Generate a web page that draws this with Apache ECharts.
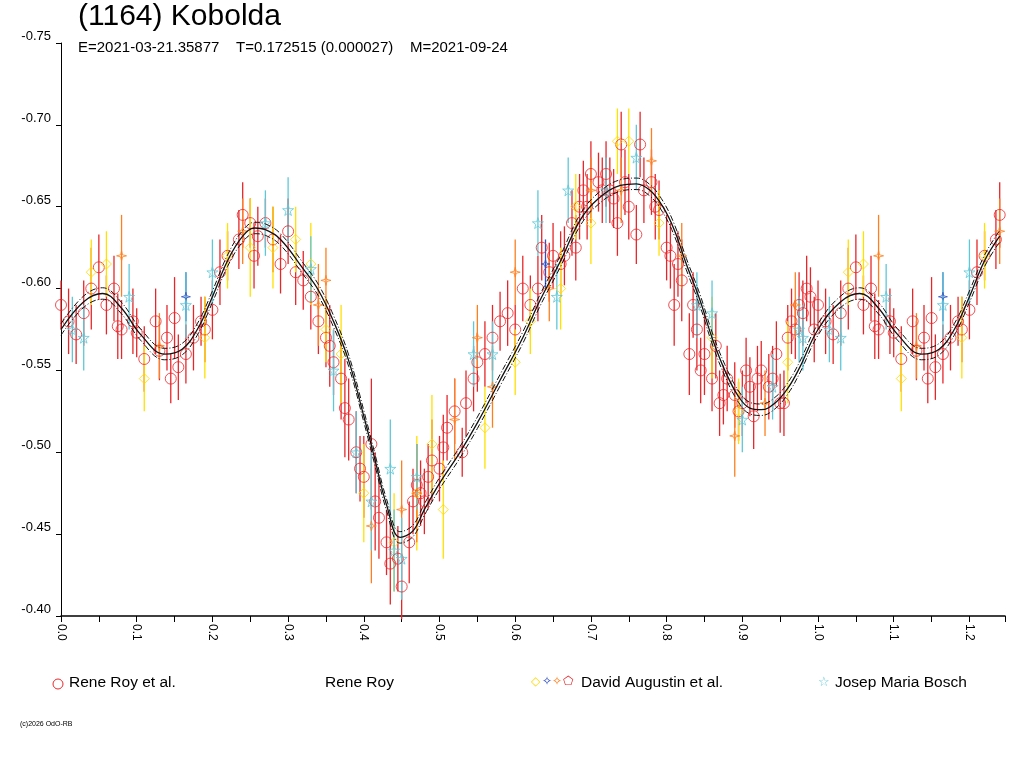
<!DOCTYPE html>
<html>
<head>
<meta charset="utf-8">
<script src="https://cdn.jsdelivr.net/npm/echarts@6/dist/echarts.min.js"></script>
<style>html,body{margin:0;padding:0;background:#fff}#chart{width:1024px;height:768px}</style>
</head>
<body>
<div id="chart"></div>
<script>
// model curve: phase, magnitude (one full period)
const modelCurve = [
  [0.00,-0.575],[0.03,-0.592],[0.055,-0.597],[0.08,-0.588],[0.105,-0.572],[0.137,-0.560],[0.16,-0.563],
  [0.18,-0.575],[0.20,-0.595],[0.22,-0.617],[0.24,-0.632],[0.256,-0.637],[0.27,-0.636],[0.29,-0.630],
  [0.32,-0.612],[0.34,-0.599],[0.36,-0.580],[0.38,-0.556],[0.40,-0.522],[0.415,-0.495],[0.43,-0.468],
  [0.448,-0.448],[0.465,-0.452],[0.48,-0.465],[0.50,-0.481],[0.527,-0.500],[0.55,-0.518],[0.58,-0.544],
  [0.61,-0.570],[0.633,-0.593],[0.66,-0.617],[0.686,-0.642],[0.71,-0.655],[0.739,-0.663],[0.76,-0.664],
  [0.778,-0.660],[0.795,-0.650],[0.81,-0.636],[0.826,-0.615],[0.844,-0.593],[0.86,-0.570],[0.877,-0.550],
  [0.895,-0.534],[0.91,-0.527],[0.925,-0.526],[0.943,-0.530],[0.96,-0.539],[0.976,-0.552],[1.00,-0.575]
];
// observations: phase, magnitude, error
const reneRoyEtAl = [
  [0.00,-0.590,0.015],[0.01,-0.580,0.02],[0.02,-0.572,0.018],[0.03,-0.585,0.02],[0.04,-0.600,0.025],[0.05,-0.613,0.02],
  [0.06,-0.590,0.018],[0.07,-0.600,0.02],[0.075,-0.577,0.02],[0.08,-0.575,0.018],[0.095,-0.580,0.02],[0.10,-0.573,0.015],
  [0.11,-0.557,0.02],[0.125,-0.580,0.02],[0.13,-0.562,0.018],[0.14,-0.570,0.02],[0.145,-0.545,0.015],[0.15,-0.582,0.025],
  [0.155,-0.552,0.02],[0.165,-0.560,0.018],[0.175,-0.570,0.02],[0.185,-0.580,0.015],[0.19,-0.575,0.02],[0.20,-0.587,0.018],
  [0.21,-0.610,0.02],[0.22,-0.620,0.015],[0.235,-0.630,0.018],[0.24,-0.645,0.02],[0.25,-0.640,0.015],[0.255,-0.620,0.02],
  [0.26,-0.632,0.018],[0.27,-0.640,0.015],[0.28,-0.630,0.02],[0.29,-0.615,0.018],[0.30,-0.635,0.02],[0.31,-0.610,0.02],
  [0.32,-0.605,0.018],[0.33,-0.595,0.02],[0.34,-0.580,0.02],[0.35,-0.570,0.018],[0.355,-0.565,0.025],[0.36,-0.555,0.02],
  [0.37,-0.545,0.025],[0.375,-0.527,0.03],[0.38,-0.520,0.025],[0.39,-0.500,0.025],[0.395,-0.490,0.02],[0.40,-0.485,0.025],
  [0.41,-0.505,0.04],[0.415,-0.470,0.03],[0.42,-0.460,0.025],[0.43,-0.445,0.02],[0.435,-0.432,0.025],[0.445,-0.435,0.02],
  [0.45,-0.418,0.02],[0.46,-0.445,0.025],[0.465,-0.470,0.02],[0.47,-0.480,0.025],[0.475,-0.475,0.02],[0.48,-0.470,0.02],
  [0.485,-0.485,0.02],[0.49,-0.495,0.025],[0.50,-0.490,0.02],[0.505,-0.503,0.02],[0.51,-0.515,0.02],[0.52,-0.525,0.02],
  [0.53,-0.500,0.015],[0.535,-0.530,0.02],[0.545,-0.545,0.02],[0.55,-0.555,0.018],[0.56,-0.560,0.02],[0.57,-0.570,0.02],
  [0.58,-0.580,0.018],[0.59,-0.585,0.02],[0.60,-0.575,0.015],[0.61,-0.600,0.02],[0.62,-0.590,0.018],[0.63,-0.600,0.02],
  [0.635,-0.625,0.02],[0.645,-0.610,0.018],[0.65,-0.620,0.02],[0.66,-0.615,0.02],[0.665,-0.620,0.018],[0.675,-0.640,0.02],
  [0.68,-0.625,0.02],[0.685,-0.650,0.02],[0.69,-0.660,0.018],[0.695,-0.650,0.02],[0.70,-0.670,0.02],[0.71,-0.665,0.018],
  [0.715,-0.660,0.02],[0.72,-0.670,0.02],[0.725,-0.660,0.02],[0.73,-0.655,0.018],[0.735,-0.640,0.02],[0.74,-0.688,0.02],
  [0.745,-0.665,0.02],[0.75,-0.650,0.02],[0.76,-0.633,0.018],[0.765,-0.688,0.02],[0.77,-0.660,0.02],[0.78,-0.665,0.02],
  [0.785,-0.650,0.02],[0.79,-0.648,0.018],[0.80,-0.625,0.02],[0.805,-0.620,0.02],[0.81,-0.590,0.025],[0.815,-0.615,0.02],
  [0.82,-0.605,0.025],[0.83,-0.560,0.025],[0.835,-0.590,0.02],[0.84,-0.575,0.025],[0.845,-0.550,0.02],[0.85,-0.560,0.025],
  [0.86,-0.545,0.02],[0.865,-0.565,0.02],[0.87,-0.530,0.02],[0.875,-0.535,0.018],[0.88,-0.545,0.02],[0.89,-0.535,0.02],
  [0.895,-0.525,0.018],[0.90,-0.530,0.02],[0.905,-0.550,0.02],[0.91,-0.540,0.018],[0.915,-0.522,0.02],[0.92,-0.545,0.02],
  [0.925,-0.550,0.018],[0.935,-0.540,0.02],[0.94,-0.545,0.02],[0.945,-0.560,0.02],[0.95,-0.530,0.018],[0.955,-0.530,0.02],
  [0.96,-0.570,0.02],[0.965,-0.580,0.02],[0.97,-0.575,0.018],[0.975,-0.590,0.02],[0.98,-0.585,0.02],[0.985,-0.600,0.02],
  [0.99,-0.595,0.018],[0.995,-0.575,0.02]
];
const augustinDiamond = [
  [0.04,-0.610,0.02],[0.06,-0.615,0.02],[0.11,-0.545,0.02],[0.19,-0.570,0.025],[0.22,-0.620,0.02],[0.25,-0.625,0.03],
  [0.28,-0.625,0.025],[0.31,-0.630,0.02],[0.33,-0.615,0.025],[0.35,-0.575,0.02],[0.37,-0.560,0.03],[0.40,-0.475,0.03],
  [0.44,-0.445,0.03],[0.47,-0.475,0.035],[0.49,-0.505,0.03],[0.505,-0.465,0.03],[0.56,-0.515,0.025],[0.60,-0.555,0.02],
  [0.62,-0.580,0.02],[0.66,-0.600,0.025],[0.68,-0.650,0.02],[0.70,-0.640,0.025],[0.735,-0.690,0.02],[0.75,-0.690,0.02],
  [0.79,-0.640,0.02],[0.86,-0.570,0.025],[0.895,-0.525,0.02],[0.96,-0.555,0.025]
];
const augustinCross = [
  [0.08,-0.620,0.025],[0.13,-0.565,0.02],[0.24,-0.635,0.02],[0.34,-0.590,0.025],[0.35,-0.605,0.02],[0.41,-0.455,0.035],
  [0.45,-0.465,0.03],[0.47,-0.475,0.03],[0.52,-0.520,0.025],[0.55,-0.570,0.02],[0.57,-0.540,0.025],[0.60,-0.610,0.02],
  [0.645,-0.600,0.02],[0.70,-0.660,0.02],[0.74,-0.660,0.02],[0.78,-0.678,0.02],[0.82,-0.620,0.02],[0.89,-0.510,0.025],
  [0.93,-0.530,0.02],[0.97,-0.590,0.02]
];
const augustinBlue = [[0.165,-0.595,0.015],[0.64,-0.615,0.015]];
const boschStars = [
  [0.015,-0.575,0.02],[0.03,-0.570,0.02],[0.09,-0.595,0.02],[0.165,-0.590,0.02],[0.20,-0.610,0.02],[0.27,-0.640,0.02],
  [0.30,-0.648,0.02],[0.33,-0.612,0.02],[0.36,-0.550,0.025],[0.39,-0.500,0.025],[0.41,-0.470,0.03],[0.435,-0.490,0.03],
  [0.44,-0.440,0.025],[0.45,-0.435,0.025],[0.47,-0.485,0.02],[0.545,-0.560,0.02],[0.57,-0.560,0.02],[0.63,-0.640,0.02],
  [0.655,-0.595,0.02],[0.67,-0.660,0.02],[0.72,-0.660,0.02],[0.76,-0.680,0.02],[0.84,-0.590,0.02],[0.86,-0.585,0.02],
  [0.90,-0.520,0.02],[0.94,-0.540,0.02],[0.975,-0.575,0.02],[0.98,-0.570,0.02]
];
const xMax = 1.247;
const yTicks = [-0.75, -0.70, -0.65, -0.60, -0.55, -0.50, -0.45, -0.40];

// phase wrap: points beyond 1.0 repeat the start of the cycle
function wrap(arr) {
  const out = arr.slice();
  arr.forEach(p => { if (p[0] + 1 <= xMax) out.push([p[0] + 1].concat(p.slice(1))); });
  return out;
}
function shift(arr, d) { return arr.map(p => [p[0], p[1] + d]); }

const curve = wrap(modelCurve).filter(p => p[0] <= xMax).sort((a, b) => a[0] - b[0]);
const STAR = 'path://M50,0 L61,35 L98,35 L68,57 L79,91 L50,70 L21,91 L32,57 L2,35 L39,35 Z';
const CROSS = 'path://M50,0 L60,40 L100,50 L60,60 L50,100 L40,60 L0,50 L40,40 Z';

function bars(data, color) {
  return {
    type: 'custom', data: wrap(data), z: 2, silent: true,
    renderItem: (params, api) => {
      const x = api.value(0), y = api.value(1), e = api.value(2);
      const a = api.coord([x, y - e]), b = api.coord([x, y + e]);
      return { type: 'line', shape: { x1: a[0], y1: a[1], x2: b[0], y2: b[1] }, style: { stroke: color, lineWidth: 1.3 } };
    }
  };
}
function marks(data, color, symbol, size) {
  return {
    type: 'scatter', data: wrap(data).map(p => [p[0], p[1]]), symbol: symbol, symbolSize: size, z: 3,
    itemStyle: { color: 'rgba(255,255,255,0)', borderColor: color, borderWidth: 1 }
  };
}
function line(data, type) {
  return {
    type: 'line', data: data, smooth: 0.4, showSymbol: false, z: 4, silent: true,
    lineStyle: { color: '#111', width: type === 'solid' ? 1.3 : 1, type: type }
  };
}

const chart = echarts.init(document.getElementById('chart'));
const txt = { fontFamily: 'Liberation Sans, Arial, sans-serif' };
chart.setOption({
  animation: false,
  grid: { left: 61, right: 19, top: 43, bottom: 152 },
  xAxis: {
    type: 'value', min: 0, max: xMax, interval: 0.1,
    splitLine: { show: false },
    axisLine: { lineStyle: { color: '#000', width: 1.5 } },
    axisTick: { inside: false, length: 6, lineStyle: { color: '#000' } },
    minorTick: { show: true, splitNumber: 2, length: 6, lineStyle: { color: '#000' } },
    axisLabel: { rotate: -90, color: '#000', fontSize: 12, fontFamily: txt.fontFamily, margin: 8,
      showMaxLabel: false, formatter: v => v.toFixed(1) }
  },
  yAxis: {
    type: 'value', inverse: true, min: -0.75, max: -0.40, interval: 0.05,
    splitLine: { show: false },
    axisLine: { lineStyle: { color: '#000', width: 1 } },
    axisTick: { length: 5, lineStyle: { color: '#000' } },
    axisLabel: { color: '#000', fontSize: 13, fontFamily: txt.fontFamily, verticalAlign: 'bottom', margin: 10,
      formatter: v => yTicks.some(t => Math.abs(t - v) < 1e-6) ? v.toFixed(2) : '' }
  },
  series: [
    bars(reneRoyEtAl, '#e8262a'),
    bars(augustinDiamond, '#ffe100'),
    bars(augustinCross, '#ff7f1e'),
    bars(augustinBlue, '#3050c0'),
    bars(boschStars, '#5fc8d8'),
    marks(reneRoyEtAl, '#e8262a', 'circle', 11),
    marks(augustinDiamond, '#ffd800', 'diamond', 10),
    marks(augustinCross, '#ff7f1e', CROSS, 10),
    marks(augustinBlue, '#3050c0', CROSS, 9),
    marks(boschStars, '#5fc8d8', STAR, 11),
    line(curve, 'solid'),
    line(shift(curve, 0.0035), [6, 2, 1, 2]),
    line(shift(curve, -0.0035), [6, 2, 1, 2])
  ],
  graphic: [
    { type: 'text', left: 78, top: 2, style: { text: '(1164) Kobolda', fontSize: 30, fill: '#000', fontFamily: txt.fontFamily } },
    { type: 'text', left: 78, top: 40, style: { text: 'E=2021-03-21.35877    T=0.172515 (0.000027)    M=2021-09-24', fontSize: 15, fill: '#000', fontFamily: txt.fontFamily } },
    { type: 'circle', shape: { cx: 58, cy: 684, r: 5 }, style: { fill: 'none', stroke: '#e8262a' } },
    { type: 'text', left: 69, top: 675, style: { text: 'Rene Roy et al.', fontSize: 15.5, fill: '#000', fontFamily: txt.fontFamily } },
    { type: 'text', left: 325, top: 675, style: { text: 'Rene Roy', fontSize: 15.5, fill: '#000', fontFamily: txt.fontFamily } },
    { type: 'text', left: 531, top: 676, style: { text: '◇', fontSize: 12, fill: '#ffd800', fontFamily: 'DejaVu Sans' } },
    { type: 'text', left: 542, top: 676, style: { text: '✧', fontSize: 12, fill: '#3050c0', fontFamily: 'DejaVu Sans' } },
    { type: 'text', left: 552, top: 676, style: { text: '✧', fontSize: 12, fill: '#ff7f1e', fontFamily: 'DejaVu Sans' } },
    { type: 'text', left: 563, top: 676, style: { text: '⬠', fontSize: 12, fill: '#e8262a', fontFamily: 'DejaVu Sans' } },
    { type: 'text', left: 581, top: 675, style: { text: 'David Augustin et al.', fontSize: 15.5, fill: '#000', fontFamily: txt.fontFamily } },
    { type: 'text', left: 818, top: 676, style: { text: '☆', fontSize: 13, fill: '#5fc8d8', fontFamily: 'DejaVu Sans' } },
    { type: 'text', left: 835, top: 675, style: { text: 'Josep Maria Bosch', fontSize: 15.5, fill: '#000', fontFamily: txt.fontFamily } },
    { type: 'text', left: 20, top: 721, style: { text: '(c)2026 OdO-RB', fontSize: 7, fill: '#000', fontFamily: txt.fontFamily } }
  ]
});
</script>
</body>
</html>
